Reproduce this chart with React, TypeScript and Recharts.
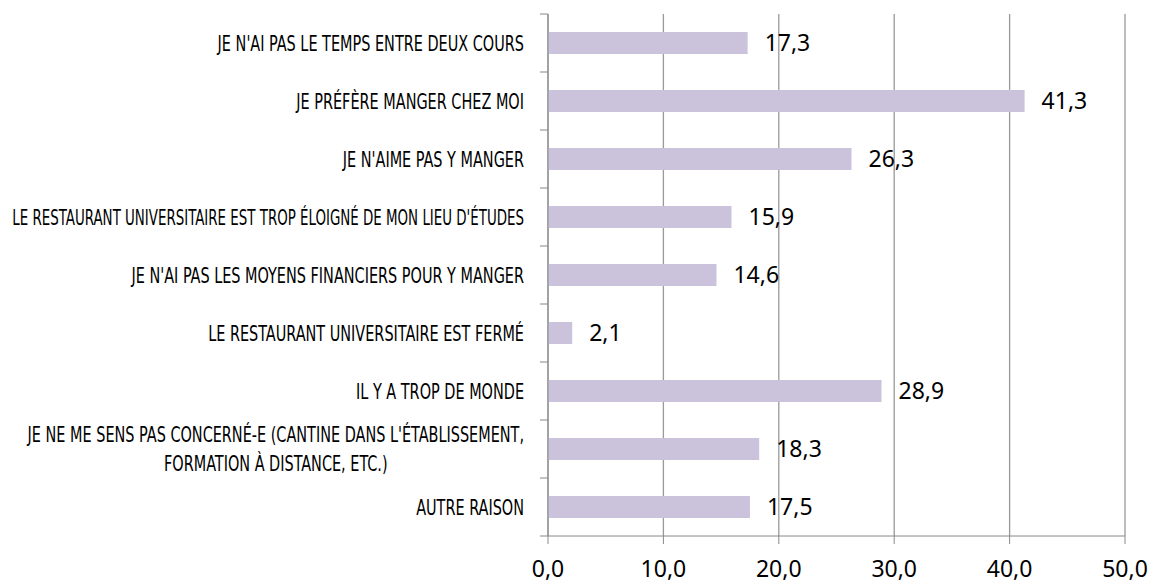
import { useLayoutEffect, useRef, useState } from 'react';
import { BarChart, Bar, XAxis, YAxis, CartesianGrid, LabelList } from 'recharts';

const categories = [
    "JE N'AI PAS LE TEMPS ENTRE DEUX COURS",
    'JE PRÉFÈRE MANGER CHEZ MOI',
    "JE N'AIME PAS Y MANGER",
    "LE RESTAURANT UNIVERSITAIRE EST TROP ÉLOIGNÉ DE MON LIEU D'ÉTUDES",
    "JE N'AI PAS LES MOYENS FINANCIERS POUR Y MANGER",
    'LE RESTAURANT UNIVERSITAIRE EST FERMÉ',
    'IL Y A TROP DE MONDE',
    "JE NE ME SENS PAS CONCERNÉ-E (CANTINE DANS L'ÉTABLISSEMENT,\nFORMATION À DISTANCE, ETC.)",
    'AUTRE RAISON',
];

const values = [17.3, 41.3, 26.3, 15.9, 14.6, 2.1, 28.9, 18.3, 17.5];

const xTicks = [0, 10, 20, 30, 40, 50];

const data = categories.map((name, i) => ({ name, value: values[i] }));

const WIDTH = 1153;
const HEIGHT = 585;
const MARGIN = { top: 14, right: 28, bottom: 0, left: 0 };
const X_AXIS_HEIGHT = 49;
const TICK_SIZE = 8;
const TICK_MARGIN = 16;
const BAND = (HEIGHT - MARGIN.top - MARGIN.bottom - X_AXIS_HEIGHT) / categories.length;

const LABEL_FONT = "'DejaVu Sans Condensed', 'DejaVu Sans', sans-serif";
const NUM_FONT = "'Noto Sans', 'Open Sans', sans-serif";
// condensed look: squeeze the label text horizontally, never wider than MAX_W
const SX = 0.73;
const MAX_W = 512;

const fmt = (v: number) => v.toFixed(1).replace('.', ',');

function CategoryTick(props: any) {
    const { x, y, payload, index, visibleTicksCount } = props;
    const lines = String(payload.value).split('\n');
    const firstRef = useRef<SVGTextElement>(null);
    const [w, setW] = useState(0);

    useLayoutEffect(() => {
        if (firstRef.current) setW(firstRef.current.getComputedTextLength());
    }, [payload.value]);

    const sx = w > 0 ? Math.min(SX, MAX_W / w) : SX;
    const axisX = x + TICK_SIZE + TICK_MARGIN;
    const last = index === visibleTicksCount - 1;
    const textProps = { fontFamily: LABEL_FONT, fontSize: 22, fill: '#000' };
    const off = lines.length > 1 ? 14.5 : 0;

    return (
        <g>
            <line x1={axisX - TICK_SIZE} x2={axisX} y1={y - BAND / 2} y2={y - BAND / 2} stroke="#888" />
            {last && <line x1={axisX - TICK_SIZE} x2={axisX} y1={y + BAND / 2} y2={y + BAND / 2} stroke="#888" />}
            <g transform={`translate(${x},${y}) scale(${sx},1)`}>
                <text ref={firstRef} {...textProps} textAnchor="end" y={-off} dy="0.36em">
                    {lines[0]}
                </text>
                {lines.length > 1 && (
                    <text {...textProps} textAnchor="middle" x={-w / 2} y={off} dy="0.36em">
                        {lines[1]}
                    </text>
                )}
            </g>
        </g>
    );
}

export default function App() {
    return (
        <div style={{ position: 'absolute', left: 0, top: 0, background: '#fff' }}>
            <BarChart
                width={WIDTH}
                height={HEIGHT}
                data={data}
                layout="vertical"
                margin={MARGIN}
                barSize={22}
            >
                <CartesianGrid horizontal={false} stroke="#999" strokeWidth={1.3} />
                <XAxis
                    type="number"
                    domain={[0, 50]}
                    ticks={xTicks}
                    height={X_AXIS_HEIGHT}
                    tickFormatter={fmt}
                    stroke="#888"
                    tickSize={8}
                    tickMargin={17}
                    tick={{ fill: '#000', fontSize: 23, fontFamily: NUM_FONT }}
                    interval={0}
                />
                <YAxis
                    type="category"
                    dataKey="name"
                    width={548}
                    stroke="#888"
                    tickLine={false}
                    tickSize={TICK_SIZE}
                    tickMargin={TICK_MARGIN}
                    interval={0}
                    tick={<CategoryTick />}
                />
                <Bar dataKey="value" fill="#cbc2dc" isAnimationActive={false}>
                    <LabelList
                        dataKey="value"
                        position="right"
                        offset={17}
                        formatter={(v: any) => fmt(Number(v))}
                        fill="#000"
                        fontSize={23}
                        fontFamily={NUM_FONT}
                    />
                </Bar>
            </BarChart>
        </div>
    );
}
